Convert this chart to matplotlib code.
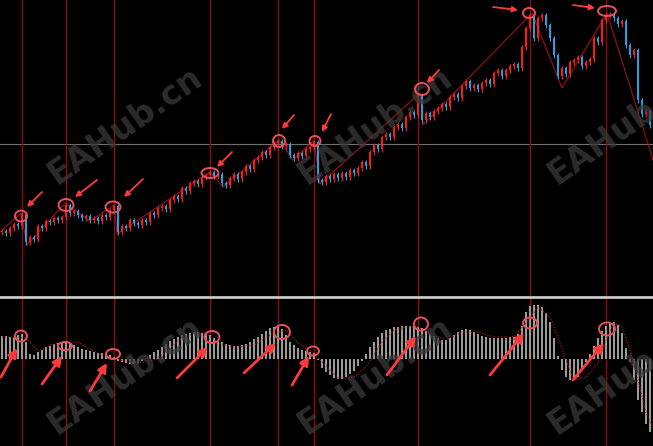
import matplotlib
matplotlib.use("Agg")
import matplotlib.pyplot as plt
from matplotlib.patches import Ellipse
import numpy as np

# closing prices, one candle per bar (open = previous close)
closes = [69, 67, 72, 76, 74, 86, 58, 63, 61, 74, 72, 79, 78, 82, 80, 83,
          95, 87, 89, 85, 82, 84, 80, 82, 79, 85, 83, 90, 94, 68, 74, 72,
          80, 77, 75, 80, 78, 87, 85, 92, 94, 91, 100, 104, 101, 112, 109, 117,
          119, 116, 123, 125, 128, 124, 126, 117, 115, 122, 126, 121, 128, 134, 131, 140,
          143, 148, 145, 153, 157, 159, 154, 156, 145, 142, 147, 144, 151, 153, 158, 120,
          118, 124, 121, 126, 122, 127, 123, 130, 127, 132, 138, 134, 148, 155, 151, 163,
          166, 163, 173, 176, 172, 183, 188, 185, 205, 180, 187, 183, 189, 192, 196, 193,
          203, 206, 202, 214, 219, 212, 215, 211, 217, 220, 216, 227, 230, 224, 230, 234,
          236, 232, 253, 272, 285, 262, 282, 285, 275, 262, 245, 224, 232, 226, 238, 240,
          243, 234, 238, 241, 262, 258, 280, 285, 286, 282, 276, 279, 255, 245, 250, 200,
          186, 189, 175, 145]

# oscillator histogram, one value per bar
hist = [23, 23, 22, 22, 24, 25, 17, 5, 4, 7, 9, 12, 13, 15, 16, 16,
        18, 16, 14, 12, 10, 9, 8, 7, 6, 6, 5, 4, 2, -2, -3, -4,
        -5, -5, -4, -2, 0, 4, 7, 9, 12, 15, 18, 20, 22, 24, 25, 26,
        27, 27, 26, 25, 24, 21, 19, 17, 15, 14, 13, 13, 14, 15, 17, 20,
        22, 25, 28, 31, 32, 32, 30, 24, 17, 14, 11, 9, 8, 7, 6, -1,
        -9, -13, -16, -19, -20, -20, -18, -15, -12, -7, -2, 5, 12, 17, 22, 26,
        29, 30, 32, 32, 33, 33, 33, 33, 32, 31, 28, 26, 23, 21, 19, 19,
        21, 24, 27, 29, 30, 29, 27, 25, 23, 22, 21, 21, 21, 21, 21, 22,
        22, 25, 33, 47, 53, 54, 54, 52, 46, 37, 21, 3, -11, -18, -21, -21,
        -18, -11, -3, 5, 13, 21, 28, 33, 36, 37, 34, 26, 11, -3, -21, -41,
        -53, -65, -73, -79]

# signal line (bar index, value)
sig_bar = [0, 6, 9, 12, 16, 19, 21, 25, 28, 31, 34, 38, 41, 44, 48, 51, 54, 58,
           63, 68, 71, 74, 78, 80, 82, 84, 88, 91, 95, 98, 101, 104, 108, 111,
           115, 119, 123, 128, 131, 134, 137, 139, 141, 143, 146, 149, 151, 153,
           155, 157, 159, 161, 163]
sig_val = [22, 21, 8, 14, 17, 17, 12, 4, 1, -3, -4, -1, 7, 18, 26, 26, 16, 12,
           14, 26, 29, 16, 6, -3, -11, -19, -18, -8, 17, 29, 32, 32, 24, 19,
           27, 27, 22, 22, 36, 52, 42, 22, -1, -21, -18, -4, 19, 36,
           32, 9, -21, -54, -71]

# swing points of the zigzag (bar index, price)
zz_bar = [-0.5, 4.75, 6.25, 15.75, 22, 28, 28.75, 52, 55.25, 69.25, 72.75,
          78, 79.5, 104.5, 105.25, 132.5, 140, 151.25, 162.75]
zz_val = [68, 87, 55, 97, 79, 95, 66, 128, 113, 160, 140, 160, 116, 207, 175,
          287, 212, 287, 140]

peak_bars = [5, 16, 28, 52, 69, 78, 104, 132, 151]

W, H = 653, 446
up_col = "#ff1a1a"
dn_col = "#2a9fe0"

fig = plt.figure(figsize=(W / 100, H / 100), dpi=100, facecolor="black")
ax = fig.add_axes([0, 1 - 296 / H, 1, 296 / H])
ax2 = fig.add_axes([0, 0, 1, 149 / H])
for a in (ax, ax2):
    a.set_facecolor("black")
    a.set_axis_off()
    a.set_xlim(-0.5, 162.75)
ax.set_ylim(4, 300)
ax2.set_ylim(-87, 62)

n = len(closes)
idx = np.arange(n)
c = np.array(closes, float)
o = np.r_[c[0] - 1, c[:-1]]
cols = [up_col if cc >= oo else dn_col for oo, cc in zip(o, c)]
hi = np.maximum(o, c) + 2.5
lo = np.minimum(o, c) - 2.5
ax.vlines(idx, lo, hi, colors=cols, lw=0.8, zorder=3)
ax.bar(idx, np.abs(c - o) + 0.6, bottom=np.minimum(o, c) - 0.3, width=0.6,
       color=cols, zorder=3)

ax.plot(zz_bar, zz_val, color="#a01010", lw=0.8, zorder=2)
ax.axhline(300 - 143.5, color="#707070", lw=0.8, zorder=1)

ax2.bar(idx, hist, width=0.6, color="#9a9a9a", zorder=2)
ax2.plot(sig_bar, sig_val, color="#c01818", lw=0.8, ls=(0, (1, 1.5)), zorder=3)

for a in (ax, ax2):
    for p in peak_bars:
        a.axvline(p, color="#8a0c0c", lw=1.0, zorder=1)

# overlay in pixel coordinates for separator, marks and watermark
ov = fig.add_axes([0, 0, 1, 1])
ov.set_xlim(0, W)
ov.set_ylim(H, 0)
ov.set_axis_off()
ov.patch.set_alpha(0)
ov.axhline(296.5, color="#c8c8c8", lw=2)

circ_top = [(21, 216, 12, 11), (66, 205, 15, 12), (113, 207, 15, 11),
            (210, 173, 17, 10), (279, 141, 12, 12), (315, 141, 11, 10),
            (422, 89, 14, 12), (529, 13, 12, 10), (607, 11, 18, 10)]
circ_bot = [(21, 336, 12, 11), (65, 346, 14, 8), (113, 354, 14, 10),
            (212, 337, 15, 12), (282, 332, 16, 14), (313, 351, 12, 9),
            (421, 324, 14, 13), (530, 323, 14, 11), (607, 329, 16, 13)]
for x, y, w, h in circ_top + circ_bot:
    ov.add_patch(Ellipse((x, y), w, h, fill=False, ec="#e8505c", lw=1.4, zorder=5))

arr_top = [(42, 192, 27, 207), (97, 180, 75, 197), (143, 179, 124, 197),
           (232, 152, 217, 167), (294, 115, 282, 129), (331, 114, 322, 132),
           (439, 70, 427, 83), (493, 7, 518, 10), (573, 5, 595, 8)]
arr_bot = [(1, 377, 17, 348), (42, 384, 62, 356), (90, 391, 107, 363),
           (177, 378, 208, 347), (244, 373, 276, 343), (292, 385, 309, 356),
           (387, 375, 416, 336), (490, 375, 524, 333), (573, 380, 604, 343)]
for x0, y0, x1, y1 in arr_top:
    ov.annotate("", xy=(x1, y1), xytext=(x0, y0),
                arrowprops=dict(arrowstyle="-|>", color="#ff3a3a", lw=1.3,
                                mutation_scale=8, shrinkA=0, shrinkB=0), zorder=6)
for x0, y0, x1, y1 in arr_bot:
    ov.annotate("", xy=(x1, y1), xytext=(x0, y0),
                arrowprops=dict(arrowstyle="-|>", color="#ff3a3a", lw=2,
                                mutation_scale=13, shrinkA=0, shrinkB=0), zorder=6)

for wx in (125, 375, 625):
    for wy in (125, 375):
        ov.text(wx, wy, "EAHub.cn", rotation=35, ha="center", va="center",
                fontsize=24, fontweight="bold", color="#3a3a3a", alpha=0.75,
                zorder=4, rotation_mode="anchor")

fig.savefig("out.png", dpi=100, facecolor="black")
